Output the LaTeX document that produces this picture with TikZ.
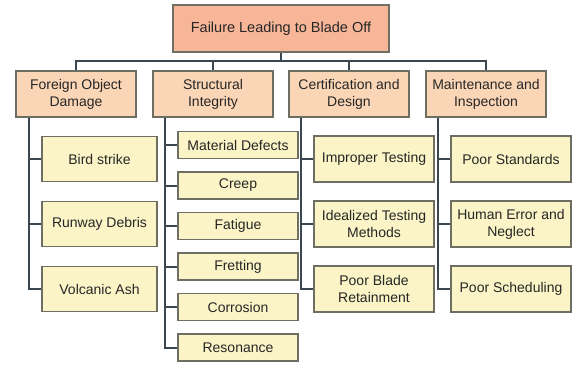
\documentclass[tikz,border=0pt]{standalone}
\usepackage{fontspec}
\setmainfont{Liberation Sans}
\definecolor{topfill}{HTML}{F7B698}
\definecolor{midfill}{HTML}{FBD6B6}
\definecolor{leaffill}{HTML}{FAF4C6}
\definecolor{boxline}{HTML}{6E6E62}
\definecolor{connline}{HTML}{3A4650}
\begin{document}
\begin{tikzpicture}[x=1pt,y=-1pt,
  box/.style={draw=boxline,line width=1.5pt,align=center,font=\fontsize{14}{17}\selectfont,inner sep=1pt,text=black!85},
  topbox/.style={box,fill=topfill,minimum width=216pt,minimum height=47pt,font=\fontsize{14.5}{17}\selectfont},
  midbox/.style={box,fill=midfill,minimum width=120pt,minimum height=46pt},
  leafbox/.style={box,fill=leaffill,minimum width=120pt,minimum height=46pt},
  smallleaf/.style={box,fill=leaffill,minimum width=120pt,minimum height=27pt},
  conn/.style={draw=connline,line width=2pt}]
\useasboundingbox[fill=white] (0,0) rectangle (573,365);
\node[topbox] (top) at (281,28.5) {Failure Leading to Blade Off};
\node[midbox] (fod) at (76,94) {Foreign Object\\Damage};
\node[midbox] (si) at (213,94) {Structural\\Integrity};
\node[midbox] (cd) at (349,94) {Certification and\\Design};
\node[midbox] (mi) at (486,94) {Maintenance and\\Inspection};
% FOD leaves
\node[leafbox,minimum width=115pt,minimum height=45pt] (bird) at (99.5,159) {Bird strike};
\node[leafbox,minimum width=115pt,minimum height=45pt] (runway) at (99.5,224) {Runway Debris};
\node[leafbox,minimum width=115pt,minimum height=45pt] (volc) at (99.5,289) {Volcanic Ash};
% Structural leaves
\node[smallleaf] (mat) at (238,145) {Material Defects};
\node[smallleaf] (creep) at (238,185.5) {Creep};
\node[smallleaf] (fat) at (238,226) {Fatigue};
\node[smallleaf] (fret) at (238,266.5) {Fretting};
\node[smallleaf] (corr) at (238,307) {Corrosion};
\node[smallleaf] (reso) at (238,347.5) {Resonance};
% Certification leaves
\node[leafbox] (impt) at (374,159) {Improper Testing};
\node[leafbox] (ideal) at (374,224) {Idealized Testing\\Methods};
\node[leafbox] (blade) at (374,289) {Poor Blade\\Retainment};
% Maintenance leaves
\node[leafbox] (pstd) at (511,159) {Poor Standards};
\node[leafbox] (human) at (511,224) {Human Error and\\Neglect};
\node[leafbox] (psched) at (511,289) {Poor Scheduling};
% top bus
\draw[conn] (top.south) -- ++(0,8.5) coordinate (bus);
\draw[conn] (fod.north) |- (bus) -| (mi.north);
\draw[conn] (si.north) -- (si.north |- bus);
\draw[conn] (cd.north) -- (cd.north |- bus);
% branches
\foreach \c in {bird,runway,volc}
  \draw[conn] (fod.south west) ++(14,0) |- (\c.west);
\foreach \c in {mat,creep,fat,fret,corr,reso}
  \draw[conn] (si.south west) ++(13,0) |- (\c.west);
\foreach \c in {impt,ideal,blade}
  \draw[conn] (cd.south west) ++(13,0) |- (\c.west);
\foreach \c in {pstd,human,psched}
  \draw[conn] (mi.south west) ++(13,0) |- (\c.west);
\end{tikzpicture}
\end{document}
